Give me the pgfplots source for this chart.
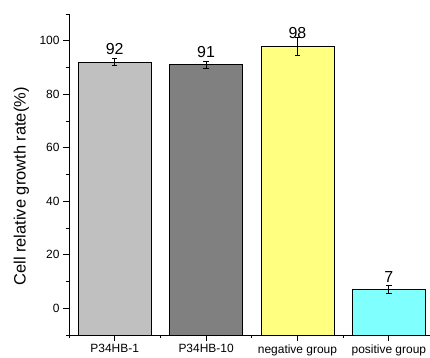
\documentclass[border=0pt]{standalone}
\usepackage{fontspec}
\setmainfont{Liberation Sans}
\usepackage{pgfplots}
\usepackage{pgfplotstable}
\pgfplotsset{compat=1.18}
\definecolor{barA}{RGB}{192,192,192}
\definecolor{barB}{RGB}{128,128,128}
\definecolor{barC}{RGB}{255,255,128}
\definecolor{barD}{RGB}{128,255,255}
\pgfplotstableread{
x y e
0 92 1.4
1 91 1.3
2 98 3.4
3 7 1.4
}\data
\begin{document}
\begin{tikzpicture}
\begin{axis}[
 at={(69bp,23bp)}, anchor=south west,
 scale only axis, width=361bp, height=321bp,
 xmin=-0.5, xmax=3.45, ymin=-10, ymax=110,
 axis x line=bottom, axis y line=left,
 axis line style={-, line width=0.8pt},
 xtick={0,1,2,3},
 xticklabels={P34HB-1,P34HB-10,negative group,positive group},
 minor xtick={-0.5,0.5,1.5,2.5},
 ytick={0,20,...,100}, minor ytick={-10,10,...,110},
 tick align=outside,
 major tick length=6bp, minor tick length=3bp,
 every tick/.style={black, line width=0.8pt},
 /pgf/number format/assume math mode=true,
 ticklabel style={font=\fontsize{12}{14}\selectfont},
 ylabel={Cell relative growth rate(\%)},
 ylabel style={at={(axis description cs:-0.1316,0.463)}, anchor=center, font=\fontsize{16.5}{18}\selectfont},
 clip=false,
]
\addplot[fill=barA, draw=black, line width=0.8pt] coordinates {(-0.4,-10) (-0.4,92) (0.4,92) (0.4,-10)} --cycle;
\addplot[fill=barB, draw=black, line width=0.8pt] coordinates {(0.6,-10) (0.6,91) (1.4,91) (1.4,-10)} --cycle;
\addplot[fill=barC, draw=black, line width=0.8pt] coordinates {(1.6,-10) (1.6,98) (2.4,98) (2.4,-10)} --cycle;
\addplot[fill=barD, draw=black, line width=0.8pt] coordinates {(2.6,-10) (2.6,7) (3.4,7) (3.4,-10)} --cycle;
\addplot[black, only marks, mark=none, line width=0.8pt,
  nodes near coords,
  every node near coord/.append style={anchor=south, inner sep=0pt, yshift=6.8bp, black, font=\fontsize{16}{18}\selectfont},
  error bars/.cd, y dir=both, y explicit, error mark=-,
  error bar style={black, line width=0.8pt, solid},
  error mark options={black, mark size=2.8bp, line width=0.8pt, rotate=90}]
  table[x=x, y=y, y error=e] {\data};
\end{axis}
\pgfresetboundingbox
\path[use as bounding box] (0,0) rectangle (430bp,358bp);
\end{tikzpicture}
\end{document}
